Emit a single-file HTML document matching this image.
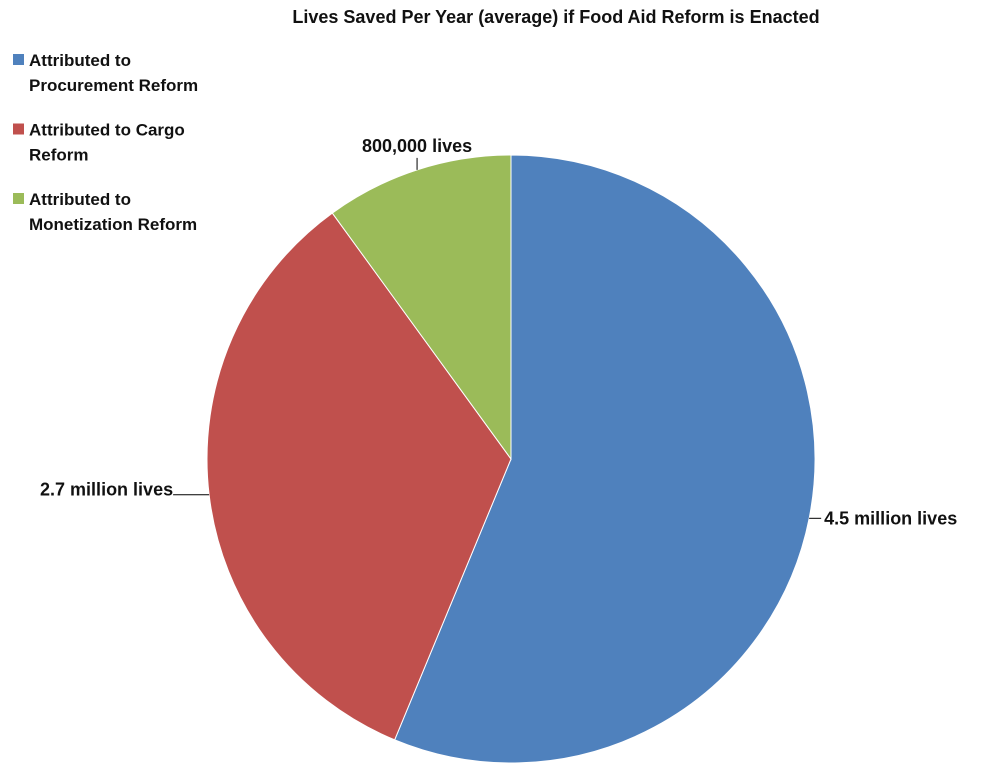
<!DOCTYPE html>
<html><head><meta charset="utf-8"><style>
body{margin:0;background:#fff;font-family:"Liberation Sans",sans-serif;}
svg{display:block}
text{font-family:"Liberation Sans",sans-serif;font-weight:bold;fill:#111}
</style></head><body>
<svg id="chart" width="983" height="766">
<text x="556" y="23" text-anchor="middle" font-size="18">Lives Saved Per Year (average) if Food Aid Reform is Enacted</text>
<g id="legend"></g>
<g id="slices"></g>
<g id="labels"></g>
</svg>
<script>
const categories=["Attributed to Procurement Reform","Attributed to Cargo Reform","Attributed to Monetization Reform"];
const values=[4.5,2.7,0.8];
const valueLabels=["4.5 million lives","2.7 million lives","800,000 lives"];
const legendLines=[["Attributed to","Procurement Reform"],["Attributed to Cargo","Reform"],["Attributed to","Monetization Reform"]];
const colors=["#4f81bd","#c0504d","#9bbb59"];
const NS="http://www.w3.org/2000/svg";
const cx=511,cy=459,r=304;
const total=values.reduce((a,b)=>a+b,0);
function pt(a,rr){return [cx+rr*Math.sin(a),cy-rr*Math.cos(a)];}
const sl=document.getElementById('slices'),lb=document.getElementById('labels'),lg=document.getElementById('legend');
let a0=0;
values.forEach((v,i)=>{
 const a1=a0+v/total*2*Math.PI;
 const p0=pt(a0,r),p1=pt(a1,r);
 const large=(a1-a0)>Math.PI?1:0;
 const p=document.createElementNS(NS,'path');
 p.setAttribute('d',`M${cx},${cy}L${p0[0]},${p0[1]}A${r},${r} 0 ${large} 1 ${p1[0]},${p1[1]}Z`);
 p.setAttribute('fill',colors[i]);p.setAttribute('stroke','#fff');p.setAttribute('stroke-width','1');
 
 
 sl.appendChild(p);
 const am=(a0+a1)/2;
 const e=pt(am,r);
 const s=Math.sin(am);
 const ln=document.createElementNS(NS,'path');
 const t=document.createElementNS(NS,'text');
 t.setAttribute('font-size','18');
 if(Math.abs(s)<0.6){
  // top/bottom label
  const ly=e[1]-12;
  ln.setAttribute('d',`M${e[0]-80},${e[1]}L${e[0]-80},${ly}`);
  t.setAttribute('x',e[0]-80);t.setAttribute('y',ly-6);t.setAttribute('text-anchor','middle');
  ln.setAttribute('d',`M${e[0]},${e[1]}L${e[0]},${ly}`);
  t.setAttribute('x',e[0]);
 } else if(s>0){
  ln.setAttribute('d',`M${e[0]},${e[1]}L${e[0]+12},${e[1]}`);
  t.setAttribute('x',e[0]+15);t.setAttribute('y',e[1]+6);
 } else {
  ln.setAttribute('d',`M${e[0]},${e[1]}L${e[0]-36},${e[1]}`);
  t.setAttribute('x',e[0]-36);t.setAttribute('y',e[1]+1);t.setAttribute('text-anchor','end');
 }
 ln.setAttribute('stroke','#000');ln.setAttribute('fill','none');
 
 
 t.textContent=valueLabels[i];
 
 
 lb.appendChild(ln);lb.appendChild(t);
 a0=a1;
});
categories.forEach((c,i)=>{
 const y=54+i*69.5;
 const rc=document.createElementNS(NS,'rect');
 rc.setAttribute('x',13);rc.setAttribute('y',y);rc.setAttribute('width',11);rc.setAttribute('height',11);rc.setAttribute('fill',colors[i]);
 
 
 lg.appendChild(rc);
 legendLines[i].forEach((l,j)=>{
  const t=document.createElementNS(NS,'text');
  t.setAttribute('x',29);t.setAttribute('y',y+12+j*25);t.setAttribute('font-size','17');
  t.textContent=l;
  
  
  lg.appendChild(t);
 });
});
</script>
</body></html>
